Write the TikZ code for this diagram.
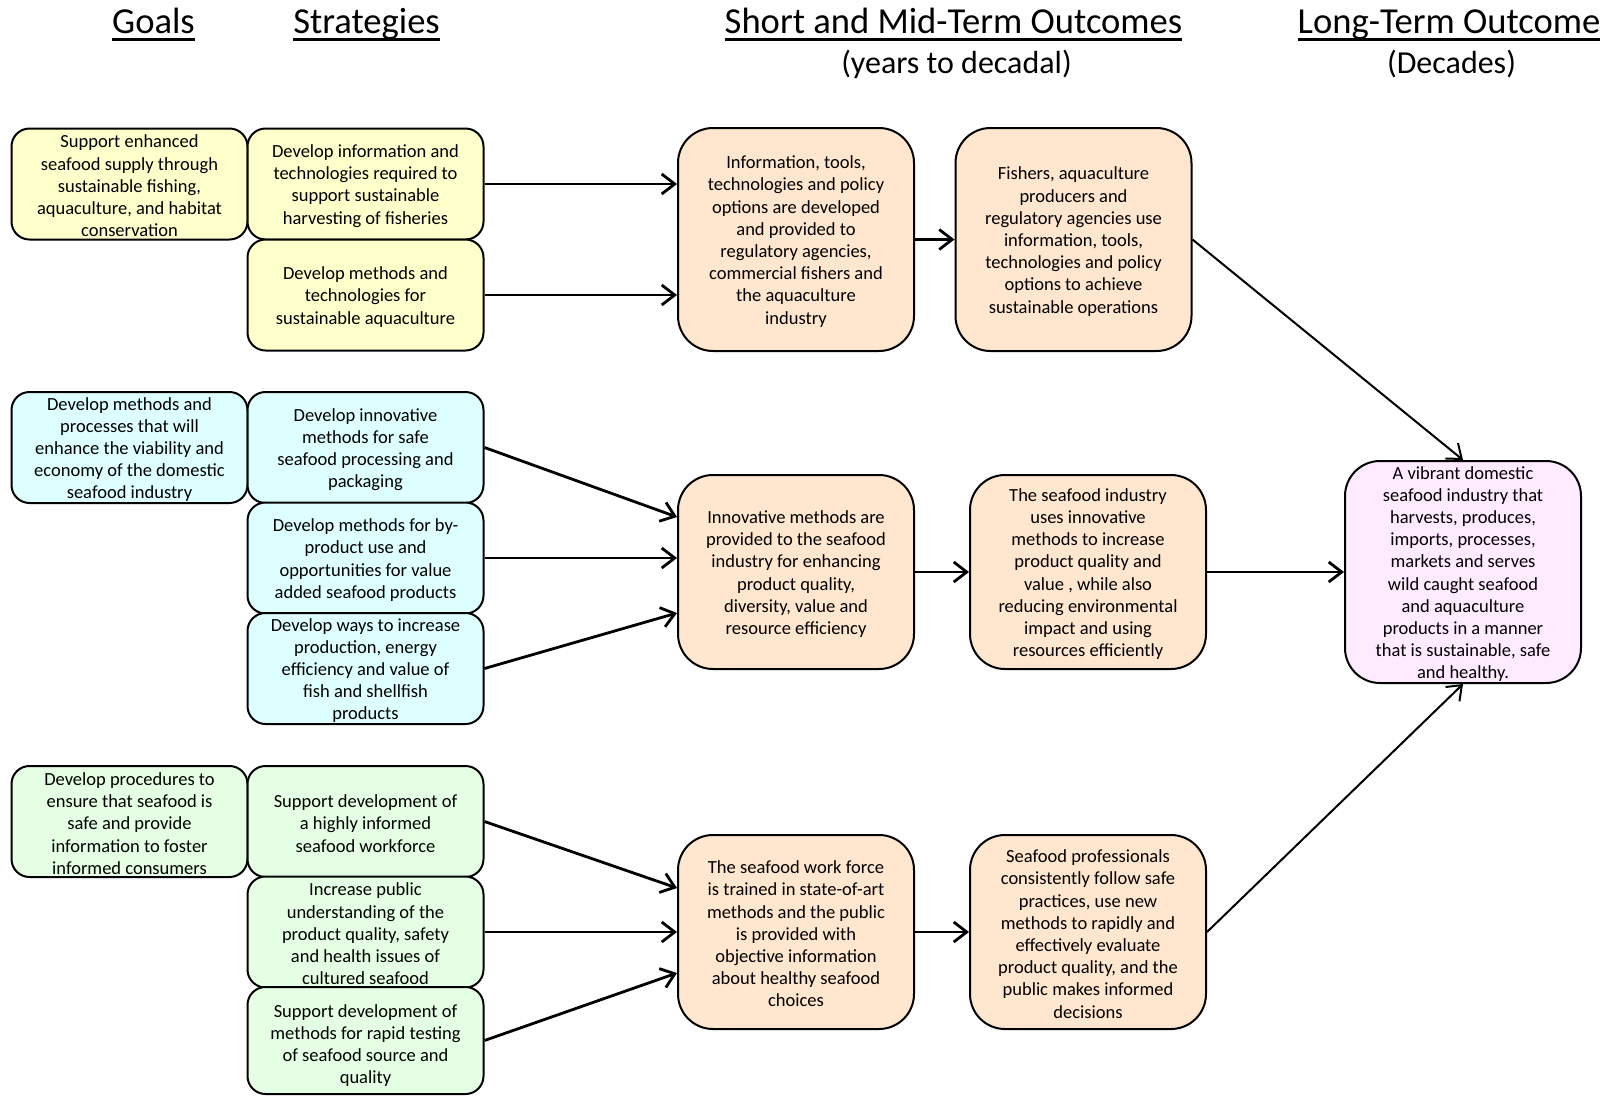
\documentclass[tikz,border=0pt]{standalone}
\usepackage{fontspec}
\setmainfont{Carlito}
\usetikzlibrary{arrows.meta,calc}
\definecolor{cyel}{RGB}{255,255,204}
\definecolor{ccya}{RGB}{222,255,255}
\definecolor{cgrn}{RGB}{229,255,229}
\definecolor{cpch}{RGB}{255,230,206}
\definecolor{cpnk}{RGB}{255,235,255}
\newcommand\hdul[1]{\setbox0\hbox{#1}\rlap{\rule[-0.21em]{\wd0}{0.07em}}\box0}
\newcommand\bxn[5]{\node[#2] (#1) at (#3,#4) {}; \node[tx] (#1t) at (#1.center) {#5};}
\begin{document}
\begin{tikzpicture}[x=1pt,y=1pt,
 bx/.style={draw=black, line width=2pt, rounded corners=18pt, minimum width=236pt, minimum height=111pt, inner sep=0pt},
 ob/.style={bx, rounded corners=35pt, minimum height=194pt},
 tx/.style={align=center, font=\fontsize{18.5}{22.2}\selectfont, inner sep=0pt, yshift=-2pt},
 arr/.style={line width=2.8pt, -{Straight Barb[length=13pt,width=20pt]}},
 arrt/.style={line width=2pt, -{Straight Barb[length=13pt,width=20pt]}},
 hd/.style={font=\fontsize{36.6}{44}\selectfont, anchor=base, inner sep=0pt},
 sub/.style={font=\fontsize{32}{38}\selectfont, anchor=base, inner sep=0pt}]
\useasboundingbox (0,0) rectangle (1612,-1096);
\fill[white] (0,0) rectangle (1612,-1096);

% headers
\node[hd] (h1) at (153.5,-33) {\hdul{Goals}};
\node[hd] (h2) at (366.5,-33) {\hdul{Strategies}};
\node[hd] (h3) at (953.5,-33) {\hdul{Short and Mid-Term Outcomes}};
\node[sub] (h3s) at (956.5,-73) {(years to decadal)};
\node[hd] (h4) at (1449,-33) {\hdul{Long-Term Outcome}};
\node[sub] (h4s) at (1451.5,-73) {(Decades)};

% row 1
\bxn{g1}{bx,fill=cyel}{129.5}{-184}{Support enhanced\\seafood supply through\\sustainable fishing,\\aquaculture, and habitat\\conservation}
\bxn{s1a}{bx,fill=cyel}{365.5}{-184}{Develop information and\\technologies required to\\support sustainable\\harvesting of fisheries}
\bxn{s1b}{bx,fill=cyel}{365.5}{-295}{Develop methods and\\technologies for\\sustainable aquaculture}
\bxn{o1a}{ob,fill=cpch,minimum height=223pt}{796}{-239.5}{Information, tools,\\technologies and policy\\options are developed\\and provided to\\regulatory agencies,\\commercial fishers and\\the aquaculture\\industry}
\bxn{o1b}{ob,fill=cpch,minimum height=223pt}{1073.5}{-239.5}{Fishers, aquaculture\\producers and\\regulatory agencies use\\information, tools,\\technologies and policy\\options to achieve\\sustainable operations}

% row 2
\bxn{g2}{bx,fill=ccya}{129.5}{-447.5}{Develop methods and\\processes that will\\enhance the viability and\\economy of the domestic\\seafood industry}
\bxn{s2a}{bx,fill=ccya}{365.5}{-447.5}{Develop innovative\\methods for safe\\seafood processing and\\packaging}
\bxn{s2b}{bx,fill=ccya}{365.5}{-558}{Develop methods for by-\\product use and\\opportunities for value\\added seafood products}
\bxn{s2c}{bx,fill=ccya}{365.5}{-668.5}{Develop ways to increase\\production, energy\\efficiency and value of\\fish and shellfish\\products}
\bxn{o2a}{ob,fill=cpch}{796}{-572}{Innovative methods are\\provided to the seafood\\industry for enhancing\\product quality,\\diversity, value and\\resource efficiency}
\bxn{o2b}{ob,fill=cpch}{1088}{-572}{The seafood industry\\uses innovative\\methods to increase\\product quality and\\value , while also\\reducing environmental\\impact and using\\resources efficiently}
\bxn{lt}{ob,fill=cpnk,minimum height=222pt}{1463}{-572}{A vibrant domestic\\seafood industry that\\harvests, produces,\\imports, processes,\\markets and serves\\wild caught seafood\\and aquaculture\\products in a manner\\that is sustainable, safe\\and healthy.}

% row 3
\bxn{g3}{bx,fill=cgrn}{129.5}{-821.5}{Develop procedures to\\ensure that seafood is\\safe and provide\\information to foster\\informed consumers}
\bxn{s3a}{bx,fill=cgrn}{365.5}{-821.5}{Support development of\\a highly informed\\seafood workforce}
\bxn{s3b}{bx,fill=cgrn}{365.5}{-932}{Increase public\\understanding of the\\product quality, safety\\and health issues of\\cultured seafood}
\node[bx,fill=cgrn,minimum height=107pt] (s3c) at (365.5,-1040.5) {};
\node[tx,yshift=-3pt] (s3ct) at (s3c.center) {Support development of\\methods for rapid testing\\of seafood source and\\quality};
\bxn{o3a}{ob,fill=cpch}{796}{-932}{The seafood work force\\is trained in state-of-art\\methods and the public\\is provided with\\objective information\\about healthy seafood\\choices}
\bxn{o3b}{ob,fill=cpch}{1088}{-932}{Seafood professionals\\consistently follow safe\\practices, use new\\methods to rapidly and\\effectively evaluate\\product quality, and the\\public makes informed\\decisions}

% connectors
\draw[arr] (s1a.east) -- (s1a.east -| o1a.west);
\draw[arr] (s1b.east) -- (s1b.east -| o1a.west);
\draw[arr] (o1a.east) -- (o1b.west);
\draw[arrt] (o1b.east) -- (lt.north);

\draw[arr] (s2a.east) -- ([yshift=55pt]o2a.west);
\draw[arr] (s2b.east) -- (s2b.east -| o2a.west);
\draw[arr] (s2c.east) -- ([yshift=-41pt]o2a.west);
\draw[arr] (o2a.east) -- (o2b.west);
\draw[arr] (o2b.east) -- (lt.west);

\draw[arr] (s3a.east) -- ([yshift=44pt]o3a.west);
\draw[arr] (s3b.east) -- (s3b.east -| o3a.west);
\draw[arr] (s3c.east) -- ([yshift=-41pt]o3a.west);
\draw[arr] (o3a.east) -- (o3b.west);
\draw[arrt] (o3b.east) -- (lt.south);
\end{tikzpicture}
\end{document}
